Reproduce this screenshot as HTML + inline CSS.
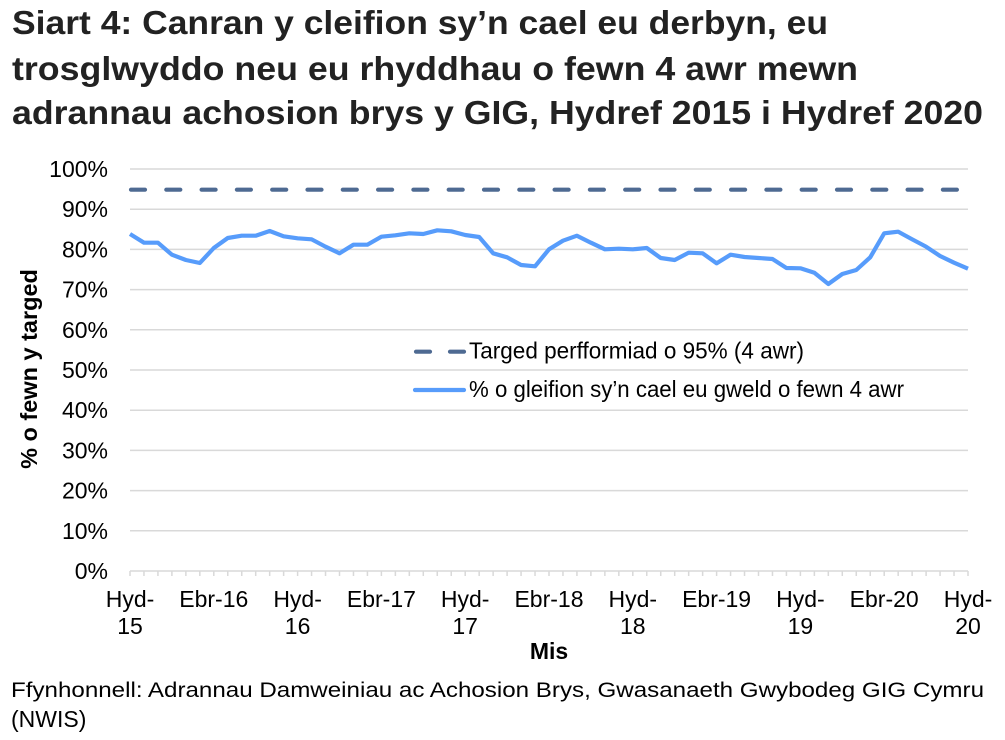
<!DOCTYPE html>
<html>
<head>
<meta charset="utf-8">
<style>
  html, body { margin: 0; padding: 0; background: #ffffff; }
  svg { display: block; }
  text { font-family: "Liberation Sans", Arial, sans-serif; }
</style>
</head>
<body>
<svg width="1005" height="740" viewBox="0 0 1005 740" xmlns="http://www.w3.org/2000/svg">
  <rect x="0" y="0" width="1005" height="740" fill="#ffffff"/>

  <!-- Title -->
  <g fill="#222222" font-weight="bold" font-size="33">
    <text x="12" y="34" textLength="816" lengthAdjust="spacingAndGlyphs">Siart 4: Canran y cleifion sy’n cael eu derbyn, eu</text>
    <text x="12" y="80" textLength="846" lengthAdjust="spacingAndGlyphs">trosglwyddo neu eu rhyddhau o fewn 4 awr mewn</text>
    <text x="12" y="124" textLength="971" lengthAdjust="spacingAndGlyphs">adrannau achosion brys y GIG, Hydref 2015 i Hydref 2020</text>
  </g>

  <!-- Gridlines -->
  <g stroke="#d9d9d9" stroke-width="1.5">
    <line x1="130" y1="169" x2="968" y2="169"/>
    <line x1="130" y1="209.2" x2="968" y2="209.2"/>
    <line x1="130" y1="249.4" x2="968" y2="249.4"/>
    <line x1="130" y1="289.6" x2="968" y2="289.6"/>
    <line x1="130" y1="329.8" x2="968" y2="329.8"/>
    <line x1="130" y1="370" x2="968" y2="370"/>
    <line x1="130" y1="410.2" x2="968" y2="410.2"/>
    <line x1="130" y1="450.4" x2="968" y2="450.4"/>
    <line x1="130" y1="490.6" x2="968" y2="490.6"/>
    <line x1="130" y1="530.8" x2="968" y2="530.8"/>
    <line x1="130" y1="571" x2="968" y2="571"/>
  </g>

  <!-- X tick marks -->
  <g stroke="#d9d9d9" stroke-width="1.5">
    <path d="M130,571v5 M143.97,571v5 M157.93,571v5 M171.9,571v5 M185.87,571v5 M199.83,571v5 M213.8,571v5 M227.77,571v5 M241.73,571v5 M255.7,571v5 M269.67,571v5 M283.63,571v5 M297.6,571v5 M311.57,571v5 M325.53,571v5 M339.5,571v5 M353.47,571v5 M367.43,571v5 M381.4,571v5 M395.37,571v5 M409.33,571v5 M423.3,571v5 M437.27,571v5 M451.23,571v5 M465.2,571v5 M479.17,571v5 M493.13,571v5 M507.1,571v5 M521.07,571v5 M535.03,571v5 M549,571v5 M562.97,571v5 M576.93,571v5 M590.9,571v5 M604.87,571v5 M618.83,571v5 M632.8,571v5 M646.77,571v5 M660.73,571v5 M674.7,571v5 M688.67,571v5 M702.63,571v5 M716.6,571v5 M730.57,571v5 M744.53,571v5 M758.5,571v5 M772.47,571v5 M786.43,571v5 M800.4,571v5 M814.37,571v5 M828.33,571v5 M842.3,571v5 M856.27,571v5 M870.23,571v5 M884.2,571v5 M898.17,571v5 M912.13,571v5 M926.1,571v5 M940.07,571v5 M954.03,571v5 M968,571v5"/>
  </g>

  <!-- Y tick labels -->
  <g fill="#000000" font-size="23" text-anchor="end">
    <text x="108" y="177">100%</text>
    <text x="108" y="217.2">90%</text>
    <text x="108" y="257.4">80%</text>
    <text x="108" y="297.6">70%</text>
    <text x="108" y="337.8">60%</text>
    <text x="108" y="378">50%</text>
    <text x="108" y="418.2">40%</text>
    <text x="108" y="458.4">30%</text>
    <text x="108" y="498.6">20%</text>
    <text x="108" y="538.8">10%</text>
    <text x="108" y="579">0%</text>
  </g>

  <!-- Y axis title -->
  <text transform="translate(37,369) rotate(-90)" text-anchor="middle" font-size="23.5" font-weight="bold" fill="#000000">% o fewn y targed</text>

  <!-- X tick labels -->
  <g fill="#000000" font-size="23" text-anchor="middle">
    <text x="130" y="607">Hyd-</text><text x="130" y="634">15</text>
    <text x="213.8" y="607">Ebr-16</text>
    <text x="297.6" y="607">Hyd-</text><text x="297.6" y="634">16</text>
    <text x="381.4" y="607">Ebr-17</text>
    <text x="465.2" y="607">Hyd-</text><text x="465.2" y="634">17</text>
    <text x="549" y="607">Ebr-18</text>
    <text x="632.8" y="607">Hyd-</text><text x="632.8" y="634">18</text>
    <text x="716.6" y="607">Ebr-19</text>
    <text x="800.4" y="607">Hyd-</text><text x="800.4" y="634">19</text>
    <text x="884.2" y="607">Ebr-20</text>
    <text x="968" y="607">Hyd-</text><text x="968" y="634">20</text>
  </g>

  <!-- X axis title -->
  <text x="549" y="659" text-anchor="middle" font-size="23" font-weight="bold" fill="#000000">Mis</text>

  <!-- Target dashed line -->
  <line x1="131" y1="189.7" x2="968" y2="189.7" stroke="#4e6a92" stroke-width="4.2" stroke-linecap="round" stroke-dasharray="14 21.3"/>

  <!-- Data line -->
  <polyline fill="none" stroke="#579cfb" stroke-width="4.2" stroke-linejoin="round"
    points="130,234 143.97,242.7 157.93,242.7 171.9,254.7 185.87,260 199.83,263 213.8,248 227.77,238 241.73,235.7 255.7,235.7 269.67,231 283.63,236.3 297.6,238.3 311.57,239.3 325.53,246.7 339.5,253.3 353.47,244.7 367.43,244.7 381.4,236.7 395.37,235.3 409.33,233.3 423.3,234 437.27,230.3 451.23,231.3 465.2,235 479.17,237 493.13,253.3 507.1,257.3 521.07,265 535.03,266.3 549,249.3 562.97,240.7 576.93,235.7 590.9,242.7 604.87,249.3 618.83,248.7 632.8,249.3 646.77,248 660.73,258 674.7,260 688.67,252.7 702.63,253.3 716.6,263.3 730.57,254.7 744.53,257 758.5,258 772.47,259 786.43,268 800.4,268.3 814.37,272.7 828.33,284 842.3,274 856.27,270 870.23,257.3 884.2,233.3 898.17,231.7 912.13,239.3 926.1,246.7 940.07,256 954.03,262.7 968,268.7"/>

  <!-- Legend -->
  <line x1="416" y1="351.7" x2="464" y2="351.7" stroke="#4e6a92" stroke-width="4.2" stroke-linecap="round" stroke-dasharray="14 20"/>
  <text x="469" y="358.5" font-size="23" fill="#000000" textLength="335" lengthAdjust="spacingAndGlyphs">Targed perfformiad o 95% (4 awr)</text>
  <line x1="415" y1="390" x2="464" y2="390" stroke="#579cfb" stroke-width="4.2" stroke-linecap="round"/>
  <text x="469" y="397" font-size="23" fill="#000000" textLength="435" lengthAdjust="spacingAndGlyphs">% o gleifion sy’n cael eu gweld o fewn 4 awr</text>

  <!-- Source -->
  <g fill="#000000">
    <text x="11" y="697" font-size="21.5" textLength="973" lengthAdjust="spacingAndGlyphs">Ffynhonnell: Adrannau Damweiniau ac Achosion Brys, Gwasanaeth Gwybodeg GIG Cymru</text>
    <text x="11" y="727" font-size="23">(NWIS)</text>
  </g>
</svg>
</body>
</html>
